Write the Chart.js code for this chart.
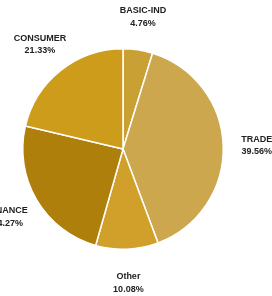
<!DOCTYPE html>
<html>
<head>
<meta charset="utf-8">
<script src="https://cdn.jsdelivr.net/npm/chart.js@4/dist/chart.umd.min.js"></script>
<style>
html,body{margin:0;padding:0;background:#fff;}
#wrap{width:272px;height:296px;}
</style>
</head>
<body>
<div id="wrap"><canvas id="c" width="272" height="296"></canvas></div>
<script>
const categories = ["BASIC-IND", "TRADE", "Other", "FINANCE", "CONSUMER"];
const shares = [4.76, 39.56, 10.08, 24.27, 21.33];
const sliceColors = ["#C9A034", "#CCA74E", "#D0A02A", "#AE7F0B", "#CD9C1B"];

const labelPlugin = {
  id: 'outLabels',
  afterDatasetsDraw(chart) {
    const ctx = chart.ctx;
    const meta = chart.getDatasetMeta(0);
    ctx.save();
    ctx.fillStyle = '#222';
    ctx.font = 'bold 9px "Liberation Sans", Arial, sans-serif';
    ctx.textAlign = 'center';
    ctx.textBaseline = 'middle';
    meta.data.forEach((arc, i) => {
      const p = arc.getProps(['x','y','startAngle','endAngle','outerRadius'], true);
      const mid = (p.startAngle + p.endAngle) / 2;
      const r = p.outerRadius * 1.335;
      const x = p.x + Math.cos(mid) * r;
      const y = p.y + Math.sin(mid) * r;
      ctx.fillText(categories[i], x, y - 6);
      ctx.fillText(shares[i].toFixed(2) + '%', x, y + 6.5);
    });
    ctx.restore();
  }
};

new Chart(document.getElementById('c'), {
  type: 'pie',
  data: {
    labels: categories,
    datasets: [{
      data: shares,
      backgroundColor: sliceColors,
      borderColor: '#ffffff',
      borderWidth: 1.5
    }]
  },
  options: {
    responsive: false,
    animation: false,
    layout: { padding: { left: 0, right: 26, top: 48, bottom: 46 } },
    plugins: { legend: { display: false }, tooltip: { enabled: false } }
  },
  plugins: [labelPlugin]
});
</script>
</body>
</html>
